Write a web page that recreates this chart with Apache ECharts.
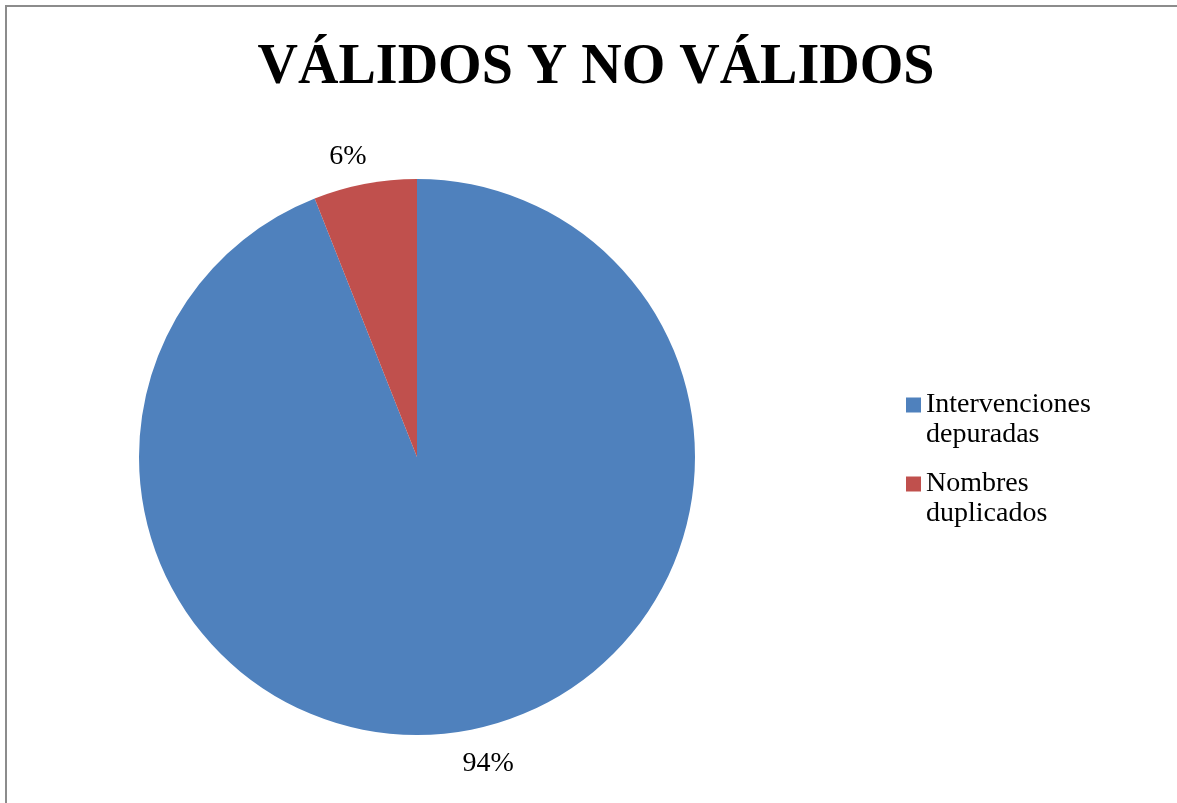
<!DOCTYPE html>
<html>
<head>
<meta charset="utf-8">
<script src="https://cdn.jsdelivr.net/npm/echarts@6/dist/echarts.min.js"></script>
<style>
html,body{margin:0;padding:0;background:#fff;}
#chart{width:1177px;height:803px;}
</style>
</head>
<body>
<div id="chart"></div>
<script>
const titleText = 'VÁLIDOS Y NO VÁLIDOS';
const categories = ['Intervenciones\ndepuradas', 'Nombres\nduplicados'];
const values = [94, 6];
const colors = ['#4F81BD', '#C0504D'];

const bodyFont = 'Liberation Serif';
const chart = echarts.init(document.getElementById('chart'));
const labelTweaks = [
  { length: 34, distance: -13 },
  { length: 28, distance: -7 }
];
chart.setOption({
  animation: false,
  backgroundColor: '#ffffff',
  title: {
    text: titleText,
    left: 596,
    textAlign: 'center',
    top: 40,
    padding: 0,
    textStyle: { fontFamily: 'Liberation Serif', fontWeight: 'bold', fontSize: 56, lineHeight: 57, color: '#000' }
  },
  graphic: [{
    type: 'rect',
    shape: { x: 6, y: 6, width: 1300, height: 1000 },
    style: { fill: 'none', stroke: '#8c8c8c', lineWidth: 2 },
    silent: true
  }],
  legend: {
    orient: 'vertical',
    left: 906,
    top: 360,
    padding: 0,
    itemWidth: 15,
    itemHeight: 15,
    itemGap: -11,
    icon: 'rect',
    data: categories,
    formatter: name => '\n' + name,
    textStyle: { fontFamily: bodyFont, fontSize: 28, lineHeight: 30, color: '#000' }
  },
  series: [{
    type: 'pie',
    center: [417, 457],
    radius: 278,
    startAngle: 90,
    clockwise: true,
    avoidLabelOverlap: false,
    itemStyle: { borderWidth: 0 },
    emphasis: { disabled: true },
    label: {
      show: true,
      position: 'outside',
      formatter: '{d}%',
      fontFamily: bodyFont,
      fontSize: 28,
      color: '#000'
    },
    labelLine: { show: false, length2: 0 },
    data: categories.map((name, i) => ({
      name: name,
      value: values[i],
      itemStyle: { color: colors[i] },
      label: { distanceToLabelLine: labelTweaks[i].distance },
      labelLine: { length: labelTweaks[i].length, length2: 0 }
    }))
  }]
});
</script>
</body>
</html>
